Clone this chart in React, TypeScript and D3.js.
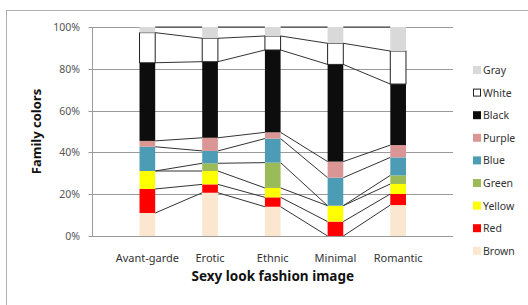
import React from "react";
import { scaleBand, scaleLinear, stack } from "d3";

const categories = ["Avant-garde", "Erotic", "Ethnic", "Minimal", "Romantic"];
const seriesNames = ["Brown", "Red", "Yellow", "Green", "Blue", "Purple", "Black", "White", "Gray"];
const seriesColors = ["#fbe7cf", "#ff0000", "#ffff00", "#9bbb59", "#4b9cb4", "#d99694", "#0d0d0d", "#ffffff", "#d9d9d9"];

// percent share per category, bottom to top
const brown = [11, 20.7, 14, 0, 14.8];
const red = [11.5, 4, 4.5, 6.9, 5.3];
const yellow = [8.6, 6.4, 4.5, 7.6, 4.8];
const green = [0, 3.7, 12.1, 0, 4.1];
const blue = [11.6, 5.9, 11.5, 13.4, 8.6];
const purple = [2.8, 6.3, 3, 7.7, 5.9];
const black = [37.4, 36.4, 39.4, 46.5, 29.2];
const white = [14.4, 11.2, 6.7, 10.1, 15.8];
const gray = [2.7, 5.4, 4.3, 7.8, 11.5];

const yTicks = [0, 20, 40, 60, 80, 100];

const seriesValues = [brown, red, yellow, green, blue, purple, black, white, gray];

const rows = categories.map((c, i) => {
  const r: any = { cat: c };
  seriesNames.forEach((s, k) => (r[s] = seriesValues[k][i]));
  return r;
});

const App = () => {
  const width = 528;
  const height = 305;
  const left = 92.5;
  const right = 453;
  const top = 27;
  const bottom = 236;

  const x = scaleBand().domain(categories).range([left, right]).padding(0.75);
  const y = scaleLinear().domain([0, 100]).range([bottom, top]);
  const layers = stack().keys(seriesNames)(rows);
  const bw = x.bandwidth();
  const font = "'Noto Sans', 'Open Sans', sans-serif";

  return (
    <svg width={width} height={height} style={{ position: "absolute", left: 0, top: 0 }}>
      <rect x={0} y={0} width={width} height={height} fill="#fff" />
      <rect x={6.5} y={10.5} width={540} height={320} fill="none" stroke="#b0b0b0" />
      {/* grid */}
      {yTicks.map((t) => (
        <g key={t}>
          <line x1={left - 4} x2={right} y1={Math.round(y(t)) + 0.5} y2={Math.round(y(t)) + 0.5} stroke="#9a9a9a" strokeWidth={1} />
          <text x={80} y={y(t) + 4} textAnchor="end" fontSize={10.5} fill="#555" fontFamily={font}>
            {t}%
          </text>
        </g>
      ))}
      <line x1={left} x2={left} y1={top} y2={bottom} stroke="#9a9a9a" />
      {/* series lines */}
      {layers.map((layer, k) =>
        categories.slice(0, -1).map((c, i) => (
          <line
            key={`${k}-${i}`}
            x1={(x(c) as number) + bw}
            x2={x(categories[i + 1]) as number}
            y1={y(layer[i][1])}
            y2={y(layer[i + 1][1])}
            stroke="#333"
            strokeWidth={1}
          />
        ))
      )}
      {/* bars */}
      {layers.map((layer, k) =>
        layer.map((d, i) => {
          const h = y(d[0]) - y(d[1]);
          if (h <= 0) return null;
          return (
            <rect
              key={`b${k}-${i}`}
              x={x(categories[i])}
              y={y(d[1])}
              width={bw}
              height={h}
              fill={seriesColors[k]}
              stroke={seriesNames[k] === "White" ? "#222" : "none"}
              strokeWidth={1}
            />
          );
        })
      )}
      {/* x labels */}
      {categories.map((c) => (
        <text key={c} x={(x(c) as number) + bw / 2} y={262} textAnchor="middle" fontSize={11} fill="#333" fontFamily={font}>
          {c}
        </text>
      ))}
      <text x={(left + right) / 2} y={281} textAnchor="middle" fontSize={13.5} fontWeight="bold" fill="#111" fontFamily={font}>
        Sexy look fashion image
      </text>
      <text
        transform={`translate(41,${(top + bottom) / 2}) rotate(-90)`}
        textAnchor="middle"
        fontSize={13}
        fontWeight="bold"
        fill="#111"
        fontFamily={font}
      >
        Family colors
      </text>
      {/* legend, top item is last series */}
      {seriesNames
        .slice()
        .reverse()
        .map((s, j) => {
          const k = seriesNames.length - 1 - j;
          const cy = 70 + j * 22.6;
          return (
            <g key={s}>
              <rect
                x={s === "White" ? 473.5 : 473}
                y={s === "White" ? cy - 3.5 : cy - 4}
                width={s === "White" ? 7 : 8}
                height={s === "White" ? 7 : 8}
                fill={seriesColors[k]}
                stroke={s === "White" ? "#222" : "none"}
              />
              <text x={483} y={cy + 4} fontSize={10.5} fill="#333" fontFamily={font}>
                {s}
              </text>
            </g>
          );
        })}
    </svg>
  );
};

export default App;
